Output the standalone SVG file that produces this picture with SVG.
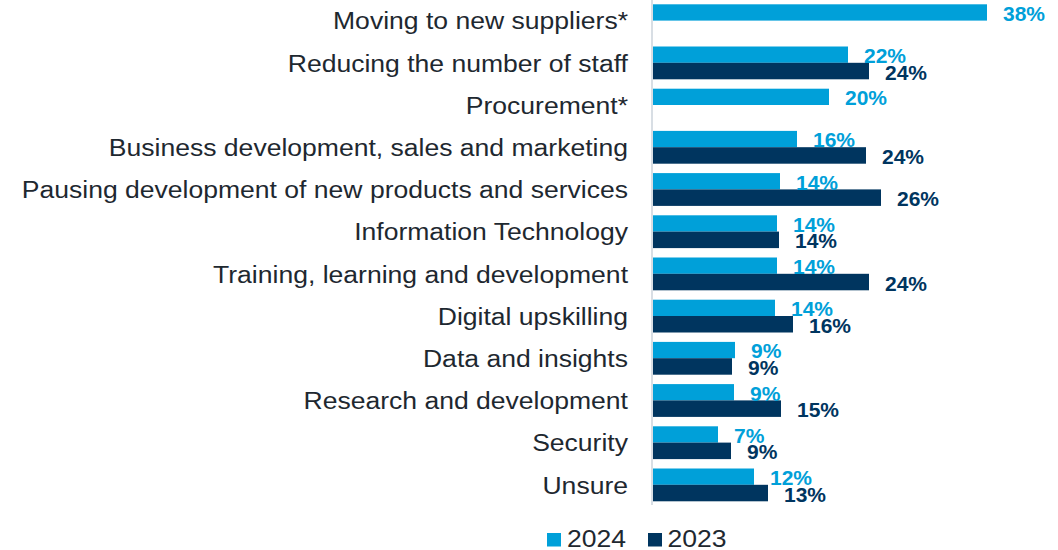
<svg xmlns="http://www.w3.org/2000/svg" width="1058" height="550" viewBox="0 0 1058 550">
<style>
.cat{font-family:"Liberation Sans",Arial,sans-serif;font-size:24.7px;fill:#1e2830;text-anchor:end}
.leg{font-family:"Liberation Sans",Arial,sans-serif;font-size:24.7px;fill:#1e2830}
.b24{fill:#00a0d9}
.b23{fill:#00355f}
.v24{font-family:"Liberation Sans",Arial,sans-serif;font-size:21px;font-weight:bold;fill:#00a0d9}
.v23{font-family:"Liberation Sans",Arial,sans-serif;font-size:21px;font-weight:bold;fill:#00355f}
</style>
<rect width="1058" height="550" fill="#ffffff"/>
<g id="axis"><rect x="651" y="0" width="2" height="505" fill="#d8dee4"/></g>

<g id="row-moving">
<text class="cat" transform="translate(628,29.3) scale(1.075,1)">Moving to new suppliers*</text>
<rect class="b24" x="653" y="4.3" width="334" height="16.3"/>
<text class="v24" x="1003" y="20.8">38%</text>
</g>
<g id="row-reducing">
<text class="cat" transform="translate(628,71.5) scale(1.075,1)">Reducing the number of staff</text>
<rect class="b24" x="653" y="46.5" width="195" height="16.3"/>
<rect class="b23" x="653" y="62.8" width="216" height="16.5"/>
<text class="v24" x="864" y="63">22%</text>
<text class="v23" x="885" y="79.5">24%</text>
</g>
<g id="row-procurement">
<text class="cat" transform="translate(628,113.7) scale(1.075,1)">Procurement*</text>
<rect class="b24" x="653" y="88.7" width="176" height="16.3"/>
<text class="v24" x="845" y="105.2">20%</text>
</g>
<g id="row-business">
<text class="cat" transform="translate(628,155.9) scale(1.075,1)">Business development, sales and marketing</text>
<rect class="b24" x="653" y="130.9" width="144" height="16.3"/>
<rect class="b23" x="653" y="147.2" width="213" height="16.5"/>
<text class="v24" x="813" y="147.4">16%</text>
<text class="v23" x="882" y="163.9">24%</text>
</g>
<g id="row-pausing">
<text class="cat" transform="translate(628,198.1) scale(1.075,1)">Pausing development of new products and services</text>
<rect class="b24" x="653" y="173.1" width="127" height="16.3"/>
<rect class="b23" x="653" y="189.4" width="228" height="16.5"/>
<text class="v24" x="796" y="189.6">14%</text>
<text class="v23" x="897" y="206.1">26%</text>
</g>
<g id="row-it">
<text class="cat" transform="translate(628,240.3) scale(1.075,1)">Information Technology</text>
<rect class="b24" x="653" y="215.3" width="124" height="16.3"/>
<rect class="b23" x="653" y="231.6" width="126" height="16.5"/>
<text class="v24" x="793" y="231.8">14%</text>
<text class="v23" x="795" y="248.3">14%</text>
</g>
<g id="row-training">
<text class="cat" transform="translate(628,282.5) scale(1.075,1)">Training, learning and development</text>
<rect class="b24" x="653" y="257.5" width="124" height="16.3"/>
<rect class="b23" x="653" y="273.8" width="216" height="16.5"/>
<text class="v24" x="793" y="274">14%</text>
<text class="v23" x="885" y="290.5">24%</text>
</g>
<g id="row-digital">
<text class="cat" transform="translate(628,324.7) scale(1.075,1)">Digital upskilling</text>
<rect class="b24" x="653" y="299.7" width="122" height="16.3"/>
<rect class="b23" x="653" y="316" width="140" height="16.5"/>
<text class="v24" x="791" y="316.2">14%</text>
<text class="v23" x="809" y="332.7">16%</text>
</g>
<g id="row-data">
<text class="cat" transform="translate(628,366.9) scale(1.075,1)">Data and insights</text>
<rect class="b24" x="653" y="341.9" width="82" height="16.3"/>
<rect class="b23" x="653" y="358.2" width="79" height="16.5"/>
<text class="v24" x="751" y="358.4">9%</text>
<text class="v23" x="748" y="374.9">9%</text>
</g>
<g id="row-rnd">
<text class="cat" transform="translate(628,409.1) scale(1.075,1)">Research and development</text>
<rect class="b24" x="653" y="384.1" width="81" height="16.3"/>
<rect class="b23" x="653" y="400.4" width="128" height="16.5"/>
<text class="v24" x="750" y="400.6">9%</text>
<text class="v23" x="797" y="417.1">15%</text>
</g>
<g id="row-security">
<text class="cat" transform="translate(628,451.3) scale(1.075,1)">Security</text>
<rect class="b24" x="653" y="426.3" width="65" height="16.3"/>
<rect class="b23" x="653" y="442.6" width="78" height="16.5"/>
<text class="v24" x="734" y="442.8">7%</text>
<text class="v23" x="747" y="459.3">9%</text>
</g>
<g id="row-unsure">
<text class="cat" transform="translate(628,493.5) scale(1.075,1)">Unsure</text>
<rect class="b24" x="653" y="468.5" width="101" height="16.3"/>
<rect class="b23" x="653" y="484.8" width="115" height="16.5"/>
<text class="v24" x="770" y="485">12%</text>
<text class="v23" x="784" y="501.5">13%</text>
</g>

<g id="legend">
<rect class="b24" x="547" y="533" width="14" height="13.5"/>
<text class="leg" transform="translate(567,546.6) scale(1.075,1)">2024</text>
<rect class="b23" x="648" y="533" width="14" height="13.5"/>
<text class="leg" transform="translate(667.5,546.6) scale(1.075,1)">2023</text>
</g>
</svg>
